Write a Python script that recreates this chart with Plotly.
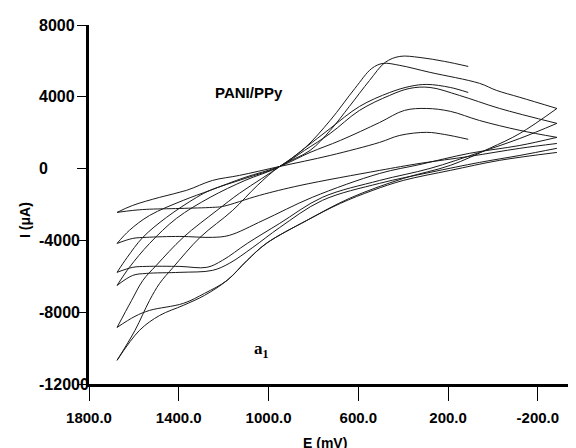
import plotly.graph_objects as go

# Cyclic voltammograms of PANI/PPy, E in mV, I in uA.
# Each loop: forward sweep (toward the positive vertex) and reverse sweep.
a_fwd_e = [110, 215, 325, 415, 480, 550, 640, 725, 815, 950, 1050, 1160, 1305, 1425, 1485, 1530, 1595, 1675]
a_fwd_i = [5690, 5970, 6190, 6250, 5920, 4910, 3460, 2130, 1010, 120, -940, -2330, -3830, -5500, -6390, -7340, -9010, -10680]
a_rev_e = [1675, 1575, 1485, 1380, 1285, 1185, 1095, 1010, 830, 680, 535, 400, 190, -30, -285]
a_rev_i = [-10680, -9010, -8180, -7620, -7060, -6230, -5110, -4170, -2890, -1940, -1210, -660, -100, 460, 900]

b_fwd_e = [-285, -120, -15, 60, 280, 415, 490, 540, 615, 725, 840, 950, 1030, 1130, 1230, 1380, 1500, 1560, 1610, 1675]
b_fwd_i = [3350, 3970, 4360, 4750, 5360, 5750, 5860, 5580, 4470, 2690, 1130, 120, -550, -1380, -2330, -3830, -5390, -6230, -7340, -8850]
b_rev_e = [1675, 1595, 1530, 1380, 1285, 1185, 1095, 1010, 830, 640, 400, 190, 15, -120, -285]
b_rev_i = [-8850, -8230, -7900, -7510, -6950, -6230, -5110, -4170, -2890, -1660, -550, 180, 1130, 1960, 3350]

c_fwd_e = [110, 190, 295, 370, 460, 595, 725, 840, 950, 1105, 1260, 1410, 1530, 1620, 1675]
c_fwd_i = [4240, 4520, 4690, 4580, 4240, 3460, 2240, 1130, 120, -660, -1600, -2770, -4170, -5500, -6510]
c_rev_e = [1675, 1605, 1545, 1395, 1250, 1175, 1070, 950, 760, 505, 280, 60, -120, -285]
c_rev_i = [-6510, -5950, -5840, -5780, -5670, -5280, -4390, -3280, -1770, -820, -210, 345, 735, 1130]

d_fwd_e = [-285, -30, 150, 280, 370, 460, 595, 725, 840, 950, 1105, 1260, 1320, 1455, 1560, 1630, 1675]
d_fwd_i = [2520, 3350, 4080, 4520, 4470, 4080, 3240, 1960, 1010, 120, -550, -1210, -1600, -2720, -3830, -4950, -5780]
d_rev_e = [1675, 1605, 1545, 1395, 1275, 1205, 1095, 950, 760, 505, 280, 60, -120, -285]
d_rev_i = [-5780, -5500, -5450, -5450, -5500, -5110, -4170, -3050, -1600, -660, 10, 900, 1680, 2520]

e_fwd_e = [-285, -120, 60, 190, 295, 395, 505, 680, 815, 950, 1105, 1260, 1380, 1530, 1620, 1675]
e_fwd_i = [1740, 2130, 2680, 3190, 3350, 3240, 2570, 1570, 900, 120, -490, -1210, -1770, -2610, -3440, -4170]
e_rev_e = [1675, 1605, 1545, 1395, 1250, 1175, 1025, 805, 505, 325, 105, -120, -285]
e_rev_i = [-4170, -3890, -3830, -3780, -3830, -3720, -2890, -1600, -270, 230, 850, 1290, 1740]

f_fwd_e = [110, 215, 295, 415, 505, 725, 950, 1130, 1250, 1365, 1485, 1605, 1675]
f_fwd_i = [1630, 1900, 2020, 1850, 1460, 735, 120, -380, -660, -1210, -1600, -2050, -2440]
f_rev_e = [1675, 1605, 1545, 1395, 1250, 1205, 1040, 860, 505, 325, 105, -120, -285]
f_rev_i = [-2440, -2330, -2270, -2220, -2160, -2110, -1490, -940, -100, 290, 680, 1130, 1400]

x_ticks = [1800, 1400, 1000, 600, 200, -200]
x_labels = ["1800.0", "1400.0", "1000.0", "600.0", "200.0", "-200.0"]
y_ticks = [8000, 4000, 0, -4000, -8000, -12000]
y_labels = ["8000", "4000", "0", "-4000", "-8000", "-12000"]

branches = [
    (a_fwd_e, a_fwd_i), (a_rev_e, a_rev_i),
    (b_fwd_e, b_fwd_i), (b_rev_e, b_rev_i),
    (c_fwd_e, c_fwd_i), (c_rev_e, c_rev_i),
    (d_fwd_e, d_fwd_i), (d_rev_e, d_rev_i),
    (e_fwd_e, e_fwd_i), (e_rev_e, e_rev_i),
    (f_fwd_e, f_fwd_i), (f_rev_e, f_rev_i),
]

fig = go.Figure()
for xs, ys in branches:
    fig.add_trace(go.Scatter(
        x=xs, y=ys, mode='lines',
        line=dict(color='#1a1a1a', width=1, shape='spline', smoothing=1.0),
        showlegend=False, hoverinfo='skip'
    ))

font_b = dict(family='Liberation Sans, Arial, sans-serif', size=15, color='black', weight='bold')

fig.update_xaxes(
    range=[1800, -370], autorange=False,
    showline=True, linecolor='black', linewidth=2.5,
    ticks='outside', ticklen=14, tickwidth=1.2, tickcolor='black',
    tickvals=x_ticks, ticktext=x_labels, tickfont=font_b,
    ticklabelstandoff=4,
    showgrid=False, zeroline=False
)
fig.update_yaxes(
    range=[-12000, 8000], autorange=False,
    showline=True, linecolor='black', linewidth=2.5,
    ticks='outside', ticklen=9, tickwidth=1.2, tickcolor='black',
    tickvals=y_ticks, showticklabels=False,
    showgrid=False, zeroline=False
)

# y tick labels are left-aligned in the original
for v, t in zip(y_ticks, y_labels):
    fig.add_annotation(x=-0.107, xref='paper', y=v, yref='y', text=t,
                       showarrow=False, xanchor='left', yanchor='middle',
                       font=dict(font_b, size=16))

fig.add_annotation(x=-0.152, xref='paper', y=0.457, yref='paper', text='I (μA)',
                   textangle=-90, showarrow=False, font=dict(font_b, size=14))
fig.add_annotation(x=0.485, xref='paper', y=-0.136, yref='paper', text='E (mV)',
                   showarrow=False, yanchor='top', font=dict(font_b, size=14))
fig.add_annotation(x=1088, y=4240, text='PANI/PPy', showarrow=False,
                   font=dict(font_b, size=15))
fig.add_annotation(x=1030, y=-10100, text='a<sub>1</sub>', showarrow=False,
                   font=dict(family='Liberation Serif, Times New Roman, serif',
                             size=17, color='black', weight='bold'))

# page body adds an 8px offset, so margins are trimmed by 8
fig.update_layout(
    width=576, height=448,
    margin=dict(l=81, r=8, t=17, b=72),
    paper_bgcolor='white', plot_bgcolor='white',
)

fig.write_html("out.html")
